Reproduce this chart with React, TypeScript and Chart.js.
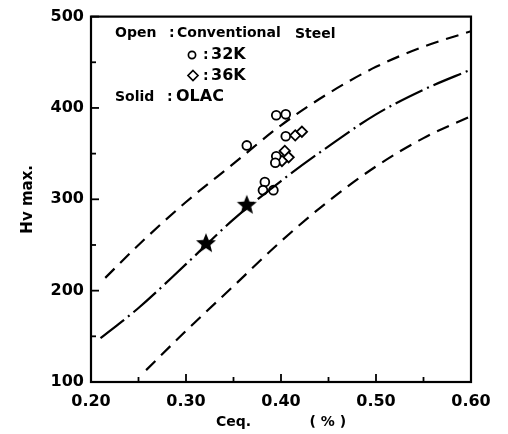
import React, { useEffect, useRef } from "react";
import { Chart, registerables } from "chart.js";

Chart.register(...registerables);

// Curves (Ceq %, Hv max)
const upperX = [0.215, 0.25, 0.30, 0.35, 0.40, 0.45, 0.50, 0.55, 0.60];
const upperHv = [214, 250, 297, 339, 381, 416, 445, 467, 484];
const middleX = [0.21, 0.25, 0.30, 0.35, 0.40, 0.45, 0.50, 0.55, 0.60];
const middleHv = [148, 181, 229, 278, 320, 358, 393, 420, 442];
const lowerX = [0.258, 0.30, 0.35, 0.40, 0.45, 0.50, 0.55, 0.60];
const lowerHv = [113, 156, 205, 254, 298, 336, 367, 391];

// Conventional steel 32K (open circles)
const k32X = [0.395, 0.405, 0.364, 0.405, 0.395, 0.394, 0.383, 0.381, 0.392];
const k32Hv = [392, 393, 359, 369, 347, 340, 319, 310, 310];
// Conventional steel 36K (open diamonds)
const k36X = [0.415, 0.422, 0.404, 0.408, 0.401];
const k36Hv = [370, 374, 353, 346, 342];
// OLAC (solid stars)
const olacX = [0.321, 0.364];
const olacHv = [252, 294];

const xTicks = [0.2, 0.3, 0.4, 0.5, 0.6];
const yTicks = [100, 200, 300, 400, 500];

const FONT = '"DejaVu Sans", sans-serif';

function pts(xs: number[], ys: number[]) {
  return xs.map((x, i) => ({ x, y: ys[i] }));
}

function makeStar(): HTMLCanvasElement {
  const c = document.createElement("canvas");
  c.width = 22;
  c.height = 22;
  const g = c.getContext("2d")!;
  g.fillStyle = "#000";
  g.beginPath();
  for (let i = 0; i < 10; i++) {
    const r = i % 2 === 0 ? 10.5 : 4.6;
    const a = -Math.PI / 2 + (i * Math.PI) / 5;
    const px = 11 + r * Math.cos(a);
    const py = 11.5 + r * Math.sin(a);
    if (i === 0) g.moveTo(px, py);
    else g.lineTo(px, py);
  }
  g.closePath();
  g.fill();
  return c;
}

const framePlugin = {
  id: "frame",
  afterDatasetsDraw(chart: any) {
    const { ctx, chartArea } = chart;
    const xs = chart.scales.x;
    const ys = chart.scales.y;
    ctx.save();
    ctx.strokeStyle = "#000";
    ctx.lineWidth = 2.2;
    ctx.strokeRect(chartArea.left, chartArea.top, chartArea.right - chartArea.left, chartArea.bottom - chartArea.top);
    ctx.lineWidth = 1.8;
    // inward ticks on x
    for (let v = 0.2; v <= 0.6001; v += 0.05) {
      const px = xs.getPixelForValue(v);
      const major = Math.abs(v * 10 - Math.round(v * 10)) < 1e-6;
      const len = major ? 8 : 5;
      ctx.beginPath();
      ctx.moveTo(px, chartArea.bottom);
      ctx.lineTo(px, chartArea.bottom - len);
      ctx.stroke();
    }
    for (let v = 100; v <= 500; v += 50) {
      const py = ys.getPixelForValue(v);
      const len = v % 100 === 0 ? 8 : 5;
      ctx.beginPath();
      ctx.moveTo(chartArea.left, py);
      ctx.lineTo(chartArea.left + len, py);
      ctx.stroke();
    }
    // legend block
    ctx.fillStyle = "#000";
    ctx.textBaseline = "middle";
    ctx.textAlign = "left";
    ctx.font = `bold 14px ${FONT}`;
    ctx.fillText("Open", 115, 33, 42);
    ctx.fillText(":", 169, 33);
    ctx.fillText("Conventional", 177, 33, 107);
    ctx.fillText("Steel", 295, 34, 43);
    ctx.lineWidth = 1.7;
    ctx.beginPath();
    ctx.arc(192, 55, 3.6, 0, Math.PI * 2);
    ctx.stroke();
    ctx.fillText(":", 203, 55);
    ctx.font = `bold 16px ${FONT}`;
    ctx.fillText("32K", 211, 55, 41);
    ctx.beginPath();
    ctx.moveTo(193, 70.5);
    ctx.lineTo(198, 75.5);
    ctx.lineTo(193, 80.5);
    ctx.lineTo(188, 75.5);
    ctx.closePath();
    ctx.stroke();
    ctx.font = `bold 14px ${FONT}`;
    ctx.fillText(":", 203, 76);
    ctx.font = `bold 16px ${FONT}`;
    ctx.fillText("36K", 211, 76, 41);
    ctx.font = `bold 14px ${FONT}`;
    ctx.fillText("Solid", 115, 97, 43);
    ctx.fillText(":", 167, 97);
    ctx.font = `bold 16px ${FONT}`;
    ctx.fillText("OLAC", 176, 97, 54);
    ctx.restore();
  },
};

export default function App() {
  const ref = useRef<HTMLCanvasElement>(null);
  useEffect(() => {
    document.body.style.margin = "0";
    const star = makeStar();
    const chart = new Chart(ref.current!, {
      type: "scatter",
      data: {
        datasets: [
          {
            type: "line",
            data: pts(upperX, upperHv),
            borderColor: "#000",
            borderWidth: 2.2,
            borderDash: [13, 8],
            pointRadius: 0,
            cubicInterpolationMode: "monotone",
            fill: false,
          },
          {
            type: "line",
            data: pts(middleX, middleHv),
            borderColor: "#000",
            borderWidth: 2.2,
            borderDash: [30, 5, 2, 5],
            pointRadius: 0,
            cubicInterpolationMode: "monotone",
            fill: false,
          },
          {
            type: "line",
            data: pts(lowerX, lowerHv),
            borderColor: "#000",
            borderWidth: 2.2,
            borderDash: [13, 8],
            pointRadius: 0,
            cubicInterpolationMode: "monotone",
            fill: false,
          },
          {
            data: pts(k32X, k32Hv),
            pointStyle: "circle",
            pointRadius: 4.4,
            pointBorderWidth: 1.8,
            borderColor: "#000",
            backgroundColor: "#fff",
          },
          {
            data: pts(k36X, k36Hv),
            pointStyle: "rectRot",
            pointRadius: 5.2,
            pointBorderWidth: 1.8,
            borderColor: "#000",
            backgroundColor: "#fff",
          },
          {
            data: pts(olacX, olacHv),
            pointStyle: star as any,
            pointRadius: 10,
            borderColor: "#000",
            backgroundColor: "#000",
          },
        ],
      },
      options: {
        animation: false,
        responsive: false,
        maintainAspectRatio: false,
        layout: { padding: { left: 0, right: 37, top: 16, bottom: 0 } },
        plugins: { legend: { display: false }, tooltip: { enabled: false } },
        scales: {
          x: {
            type: "linear",
            min: 0.2,
            max: 0.6,
            afterBuildTicks: (s: any) => {
              s.ticks = xTicks.map((v) => ({ value: v }));
            },
            afterFit: (s: any) => {
              s.height = 52;
            },
            grid: { display: false, drawTicks: false },
            border: { display: false },
            ticks: {
              color: "#000",
              padding: 10,
              maxRotation: 0,
              font: { family: FONT, size: 16, weight: "bold" },
              callback: (v: any) => Number(v).toFixed(2),
            },
            title: {
              display: true,
              text: "Ceq.            ( % )",
              color: "#000",
              font: { family: FONT, size: 14, weight: "bold" },
              padding: { top: 0, bottom: 3 },
            },
          },
          y: {
            type: "linear",
            min: 100,
            max: 500,
            afterBuildTicks: (s: any) => {
              s.ticks = yTicks.map((v) => ({ value: v }));
            },
            afterFit: (s: any) => {
              s.width = 91;
            },
            grid: { display: false, drawTicks: false },
            border: { display: false },
            ticks: {
              color: "#000",
              padding: 7,
              font: { family: FONT, size: 16, weight: "bold" },
            },
            title: {
              display: true,
              text: "Hv max.",
              color: "#000",
              font: { family: FONT, size: 15, weight: "bold" },
              padding: { top: 19, bottom: 0 },
            },
          },
        },
      },
      plugins: [framePlugin],
    } as any);
    return () => chart.destroy();
  }, []);
  return (
    <div style={{ position: "absolute", left: 0, top: 0, width: 508, height: 434, background: "#fff" }}>
      <canvas ref={ref} width={508} height={434} style={{ width: 508, height: 434 }} />
    </div>
  );
}
